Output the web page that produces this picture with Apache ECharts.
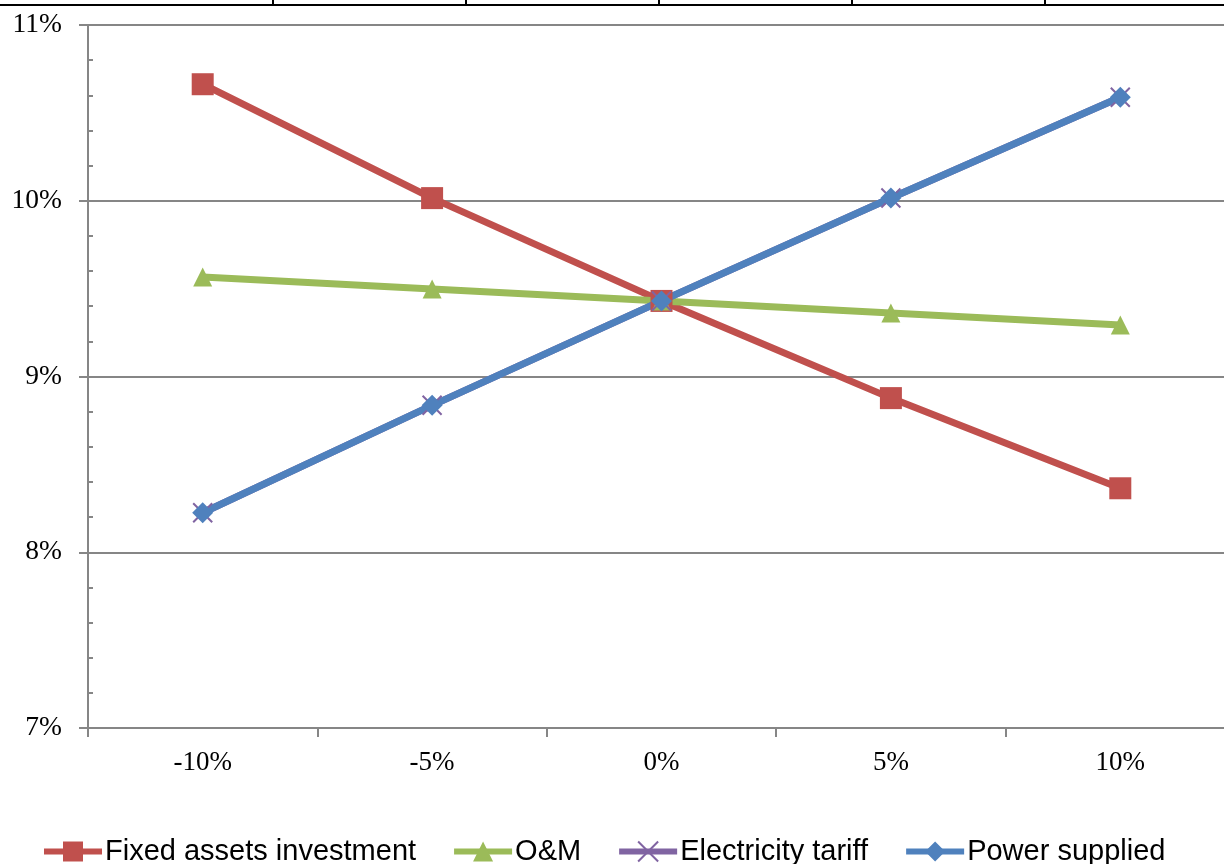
<!DOCTYPE html>
<html>
<head>
<meta charset="utf-8">
<script src="https://cdn.jsdelivr.net/npm/echarts@6/dist/echarts.min.js"></script>
<style>
html,body{margin:0;padding:0;background:#fff;}
#chart{width:1224px;height:864px;}
</style>
</head>
<body>
<div id="chart"></div>
<script>
const categories = ['-10%', '-5%', '0%', '5%', '10%'];
const fixedAssets = [10.663, 10.015, 9.43, 8.877, 8.364];
const oAndM = [9.566, 9.498, 9.43, 9.361, 9.293];
const electricityTariff = [8.225, 8.836, 9.43, 10.016, 10.589];
const powerSupplied = [8.225, 8.836, 9.43, 10.016, 10.589];
const yTicks = { min: 7, max: 11, interval: 1, minor: 0.2 };

const chart = echarts.init(document.getElementById('chart'), null, { renderer: 'canvas' });
const gray = '#868686';
const serif = '"Liberation Serif", "Times New Roman", serif';
const sans = '"Liberation Sans", Arial, sans-serif';
const xPath = 'path://M0,0 L10,10 M10,0 L0,10';

function lineSeries(name, data, color, symbol, size, extra) {
  return Object.assign({
    name: name,
    type: 'line',
    data: data,
    symbol: symbol,
    symbolSize: size,
    showAllSymbol: true,
    lineStyle: { color: color, width: 7 },
    itemStyle: { color: color },
    emphasis: { disabled: true },
    animation: false
  }, extra || {});
}

const option = {
  backgroundColor: '#fff',
  animation: false,
  grid: { left: 88, top: 25, width: 1147, height: 703, containLabel: false, outerBoundsMode: 'none' },
  legend: {
    left: 41,
    top: 837,
    padding: 0,
    itemWidth: 58,
    itemHeight: 25,
    itemGap: 35,
    lineStyle: { width: 6 },
    textStyle: { fontFamily: sans, fontSize: 29, color: '#000', padding: [0, 0, 0, -2] },
    data: ['Fixed assets investment', 'O&M', 'Electricity tariff', 'Power supplied']
  },
  xAxis: {
    type: 'category',
    data: categories,
    boundaryGap: true,
    axisLine: { lineStyle: { color: gray, width: 2 } },
    axisTick: { show: true, length: 9, lineStyle: { color: gray, width: 2 } },
    axisLabel: { fontFamily: serif, fontSize: 27, color: '#000', margin: 21 },
    splitLine: { show: false }
  },
  yAxis: [
    {
      type: 'value',
      min: yTicks.min, max: yTicks.max, interval: yTicks.interval,
      position: 'left',
      axisLine: { show: true, lineStyle: { color: gray, width: 2 } },
      axisTick: { show: true, length: 9, lineStyle: { color: gray, width: 2 } },
      axisLabel: { formatter: '{value}%', fontFamily: serif, fontSize: 27.5, color: '#000', margin: 26 },
      splitLine: { show: true, lineStyle: { color: gray, width: 2 } }
    },
    {
      type: 'value',
      min: yTicks.min, max: yTicks.max, interval: yTicks.minor,
      position: 'left',
      offset: 0,
      axisLine: { show: false },
      axisTick: { show: true, inside: true, length: 5, lineStyle: { color: gray, width: 2 } },
      axisLabel: { show: false },
      splitLine: { show: false }
    }
  ],
  series: [
    lineSeries('Fixed assets investment', fixedAssets, '#C0504D', 'rect', 22),
    lineSeries('O&M', oAndM, '#9BBB59', 'triangle', 19),
    lineSeries('Electricity tariff', electricityTariff, '#8064A2', xPath, 19,
      { itemStyle: { color: '#8064A2', borderColor: '#8064A2', borderWidth: 2 } }),
    lineSeries('Power supplied', powerSupplied, '#4F81BD', 'diamond', 21)
  ],
  graphic: [
    { type: 'line', shape: { x1: 0, y1: 5, x2: 1224, y2: 5 }, style: { stroke: '#000', lineWidth: 2 }, silent: true },
    { type: 'line', shape: { x1: 273, y1: 0, x2: 273, y2: 5 }, style: { stroke: '#000', lineWidth: 2 }, silent: true },
    { type: 'line', shape: { x1: 466, y1: 0, x2: 466, y2: 5 }, style: { stroke: '#000', lineWidth: 2 }, silent: true },
    { type: 'line', shape: { x1: 659, y1: 0, x2: 659, y2: 5 }, style: { stroke: '#000', lineWidth: 2 }, silent: true },
    { type: 'line', shape: { x1: 852, y1: 0, x2: 852, y2: 5 }, style: { stroke: '#000', lineWidth: 2 }, silent: true },
    { type: 'line', shape: { x1: 1045, y1: 0, x2: 1045, y2: 5 }, style: { stroke: '#000', lineWidth: 2 }, silent: true }
  ]
};
chart.setOption(option);
</script>
</body>
</html>
